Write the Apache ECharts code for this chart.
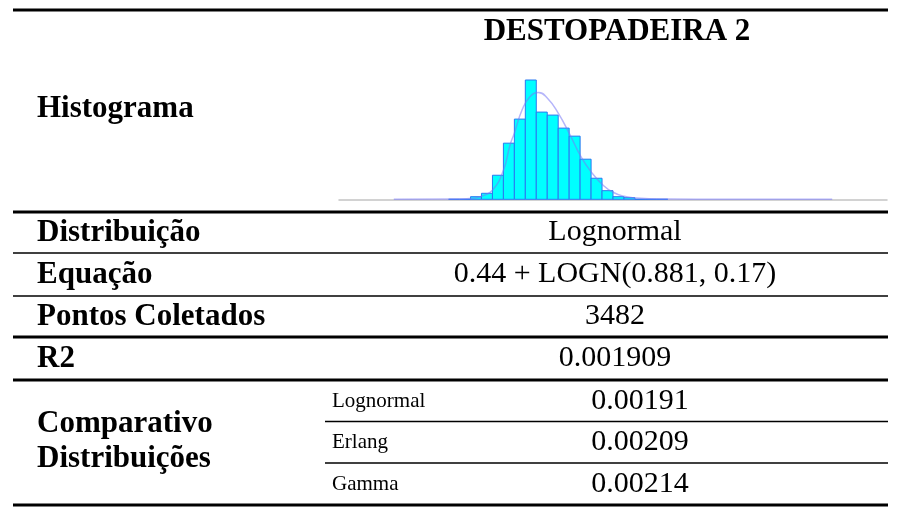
<!DOCTYPE html>
<html>
  <head>
    <meta charset="utf-8" />
    <title>Destopadeira 2</title>
    <style type="text/css">
      html, body { margin: 0; padding: 0; background: #fff; }
      #main { width: 901px; height: 507px; }
    </style>
    <script type="text/javascript" src="https://cdn.jsdelivr.net/npm/echarts@6.0.0/dist/echarts.min.js"></script>
  </head>
  <body>
    <div id="main"></div>
    <script type="text/javascript">
    // histogram bins (left edge, bin width 0.1) and bar heights
    var binStart = [1.0, 1.1, 1.2, 1.3, 1.4, 1.5, 1.6, 1.7, 1.8, 1.9, 2.0, 2.1, 2.2, 2.3, 2.4, 2.5, 2.6, 2.7, 2.8, 2.9];
    var binCount = [0, 0, 2.6, 6, 24, 56, 80, 119, 87, 84, 71, 63, 40, 21, 8.6, 2.6, 1.6, 0, 0, 0];
    var binWidth = 0.1;

    // fitted lognormal curve
    var curveX = [0.5, 1.1, 1.22, 1.3, 1.4, 1.5, 1.56, 1.6, 1.67, 1.74, 1.82, 1.9, 2.0, 2.1, 2.21, 2.31, 2.41, 2.5, 2.6, 2.71, 3.0, 3.5, 4.5];
    var curveY = [0, 0.3, 1, 3, 9, 29, 54, 66, 89, 102, 106.5, 101, 86, 66, 42, 26, 14, 7, 3, 1.3, 0.3, 0, 0];

    var title = 'DESTOPADEIRA 2';
    var rowLabels = ['Distribuição', 'Equação', 'Pontos Coletados', 'R2'];
    var rowValues = ['Lognormal', '0.44 + LOGN(0.881, 0.17)', '3482', '0.001909'];
    var compLabel = ['Comparativo', 'Distribuições'];
    var compNames = ['Lognormal', 'Erlang', 'Gamma'];
    var compValues = ['0.00191', '0.00209', '0.00214'];

    var dom = document.getElementById('main');
    var myChart = echarts.init(dom);

    var bold = 'bold 31px "Liberation Serif", "Times New Roman", serif';
    var reg = '30px "Liberation Serif", "Times New Roman", serif';
    var small = '21px "Liberation Serif", "Times New Roman", serif';

    function txt(s, x, y, font, align) {
      return {
        type: 'text',
        silent: true,
        style: {
          text: s, x: x, y: y, font: font, fill: '#000',
          align: align, verticalAlign: 'middle',
          textAlign: align, textVerticalAlign: 'middle'
        }
      };
    }
    function hline(y, x1, x2, w) {
      return {
        type: 'line',
        silent: true,
        shape: { x1: x1, y1: y, x2: x2, y2: y },
        style: { stroke: '#000', lineWidth: w }
      };
    }

    var L = 13, R = 888, valX = 615;
    var rowMid = [232.5, 274.5, 316.5, 358.5];
    var subMid = [401, 442, 484];

    var graphic = [];
    graphic.push(hline(10, L, R, 3));
    graphic.push(hline(212, L, R, 3));
    graphic.push(hline(253, L, R, 1.5));
    graphic.push(hline(296, L, R, 1.5));
    graphic.push(hline(337, L, R, 3));
    graphic.push(hline(380, L, R, 3));
    graphic.push(hline(421.5, 325, R, 1.5));
    graphic.push(hline(463, 325, R, 1.5));
    graphic.push(hline(505, L, R, 3));

    graphic.push(txt(title, 617, 32, bold, 'center'));
    graphic.push(txt('Histograma', 37, 109, bold, 'left'));
    for (var i = 0; i < rowLabels.length; i++) {
      graphic.push(txt(rowLabels[i], 37, rowMid[i], bold, 'left'));
      graphic.push(txt(rowValues[i], valX, rowMid[i], reg, 'center'));
    }
    graphic.push(txt(compLabel[0], 37, 424, bold, 'left'));
    graphic.push(txt(compLabel[1], 37, 459, bold, 'left'));
    for (var j = 0; j < compNames.length; j++) {
      graphic.push(txt(compNames[j], 332, subMid[j], small, 'left'));
      graphic.push(txt(compValues[j], 640, subMid[j], reg, 'center'));
    }

    var bars = [];
    for (var k = 0; k < binStart.length; k++) {
      bars.push([binStart[k], binStart[k] + binWidth, binCount[k]]);
    }
    var curve = [];
    for (var m = 0; m < curveX.length; m++) {
      curve.push([curveX[m], curveY[m]]);
    }

    var option = {
      animation: false,
      backgroundColor: '#fff',
      grid: { left: 339, right: 14, top: 80, height: 119.3 },
      xAxis: {
        type: 'value', min: 0, max: 5,
        axisLine: { show: true, lineStyle: { color: '#c4c4c4', width: 1.5 } },
        axisTick: { show: false },
        axisLabel: { show: false },
        splitLine: { show: false }
      },
      yAxis: {
        type: 'value', min: 0, max: 119,
        show: false,
        splitLine: { show: false }
      },
      series: [
        {
          type: 'custom',
          data: bars,
          encode: { x: [0, 1], y: 2 },
          renderItem: function (params, api) {
            var p0 = api.coord([api.value(0), 0]);
            var p1 = api.coord([api.value(1), api.value(2)]);
            return {
              type: 'rect',
              shape: { x: p0[0], y: p1[1], width: p1[0] - p0[0], height: p0[1] - p1[1] },
              style: { fill: '#00ffff', stroke: '#2a78f0', lineWidth: 1 }
            };
          },
          z: 2
        },
        {
          type: 'line',
          data: curve,
          smooth: true,
          showSymbol: false,
          lineStyle: { color: 'rgba(120,120,245,0.55)', width: 1.5 },
          z: 3
        }
      ],
      graphic: graphic
    };

    if (option && typeof option === 'object') {
      myChart.setOption(option);
    }
    </script>
  </body>
</html>
